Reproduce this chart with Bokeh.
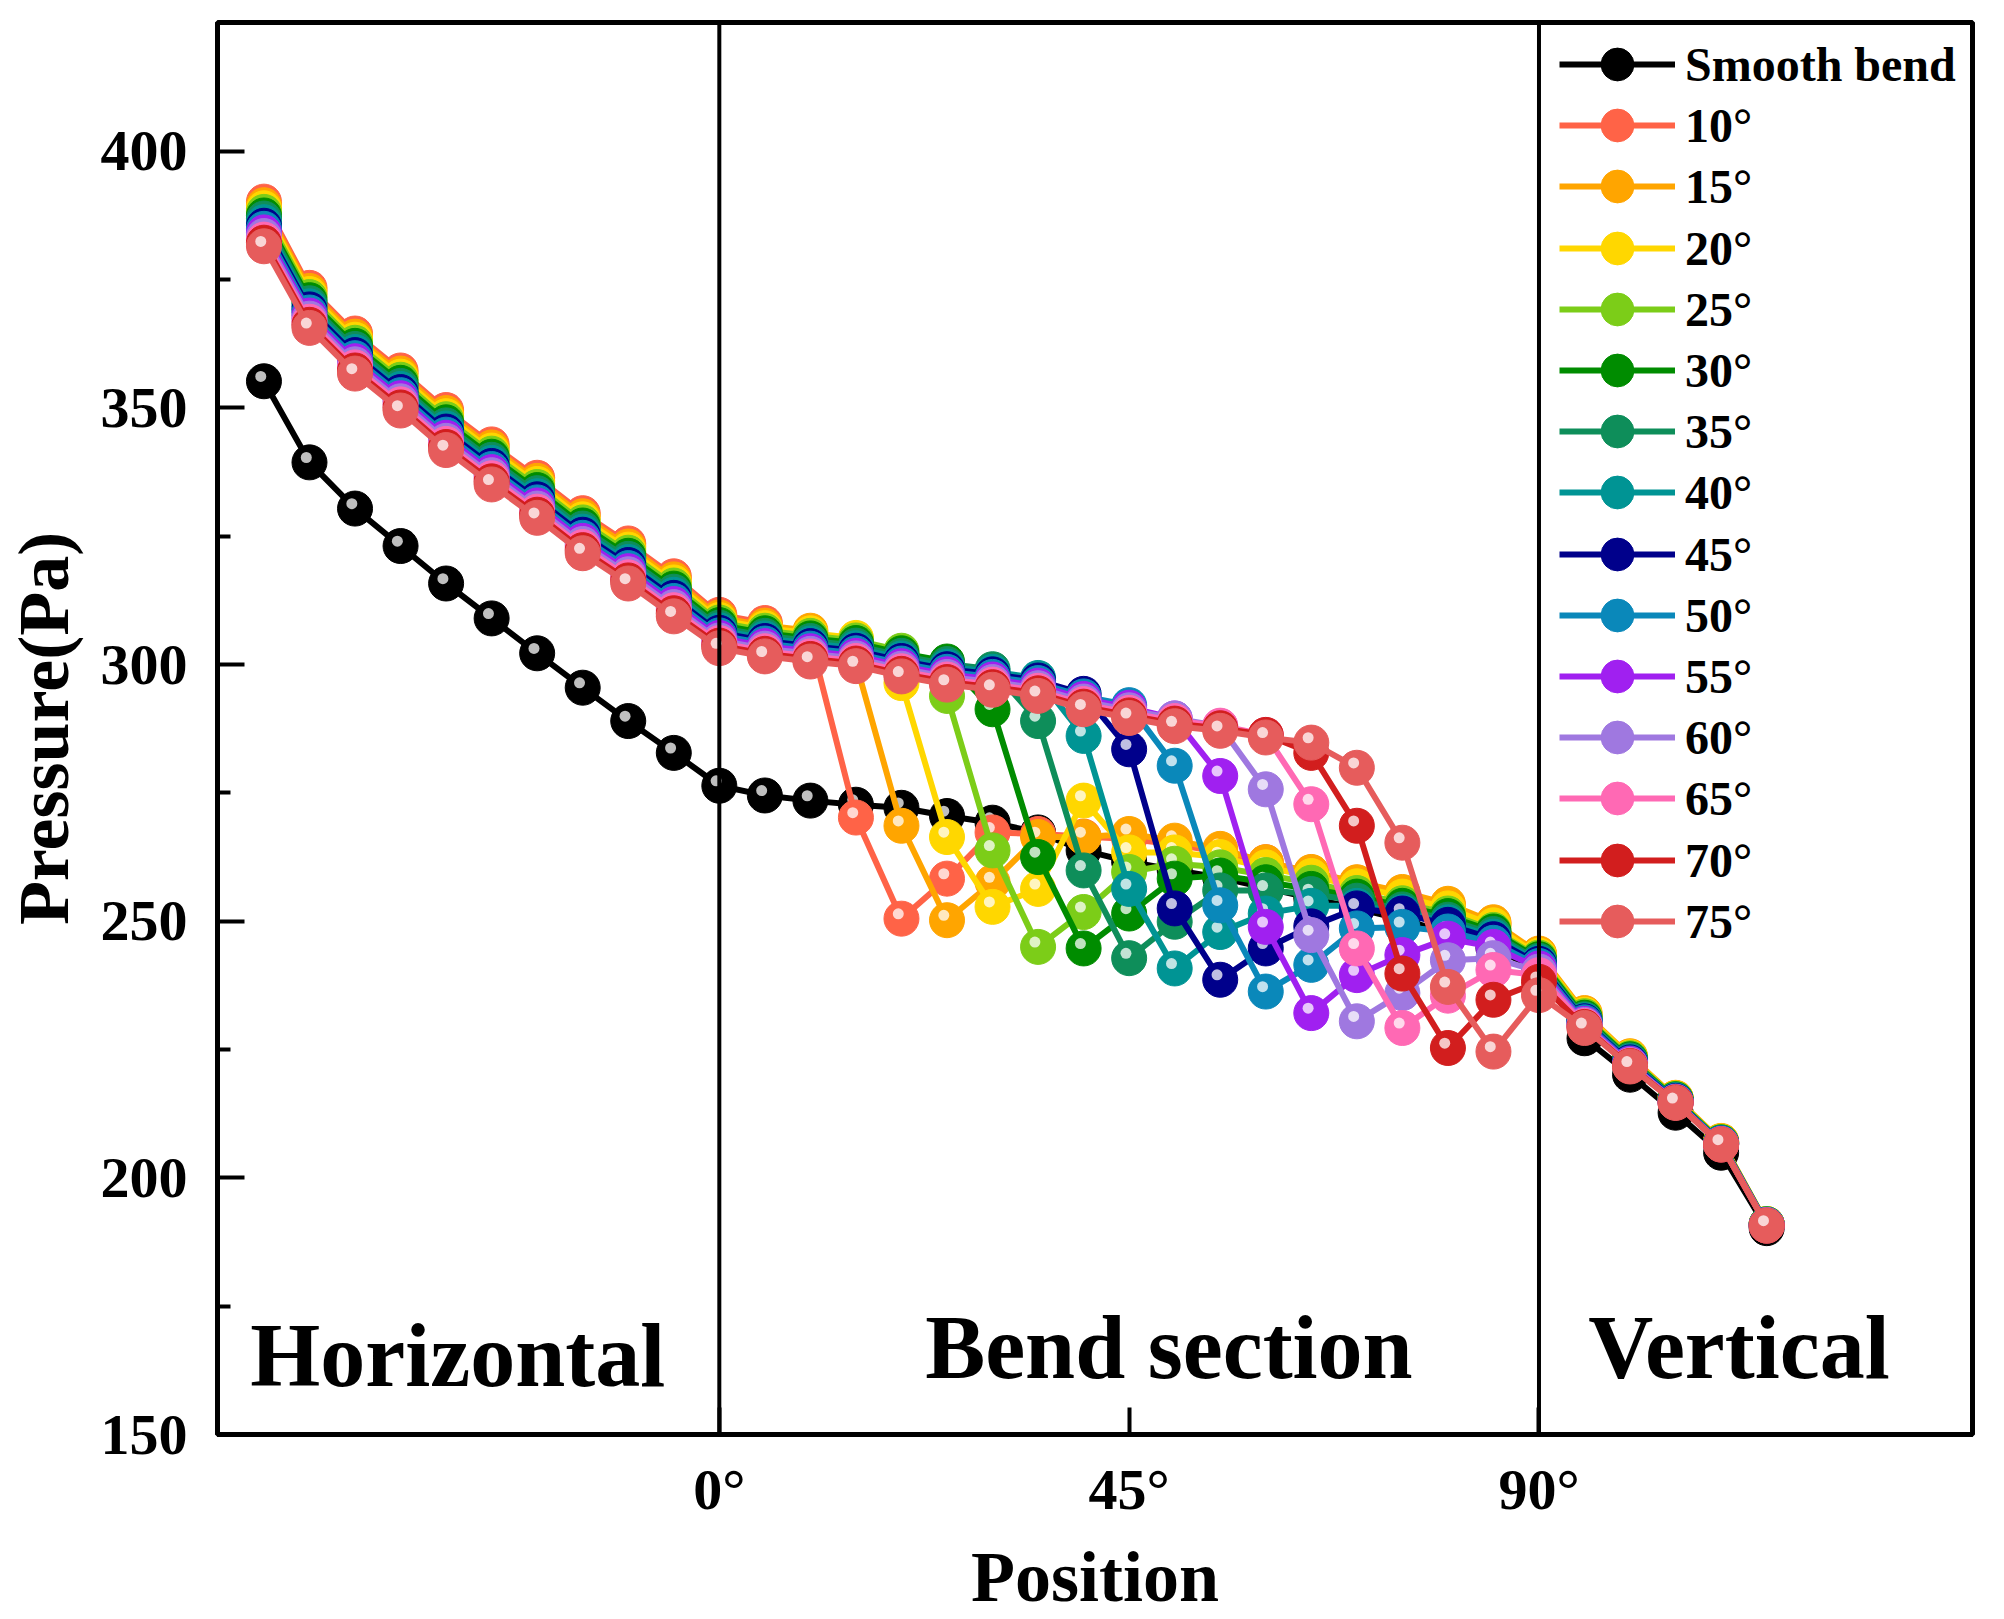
from bokeh.plotting import figure
from bokeh.models import Range1d, FixedTicker, Span, Label, Legend, LegendItem
from bokeh.embed import file_html
from bokeh.resources import INLINE

# positions along the pipe, in degrees of bend (negative = horizontal run, >90 = vertical run)
position = [-50, -45, -40, -35, -30, -25, -20, -15, -10, -5, 0,
            5, 10, 15, 20, 25, 30, 35, 40, 45, 50, 55, 60, 65, 70, 75, 80, 85, 90,
            95, 100, 105, 110, 115]

smooth_bend = [355.2, 339.4, 330.4, 323.1, 315.8, 309.0, 302.2, 295.5, 289.0, 282.8, 276.4,
               274.5, 273.5, 272.7, 272.1, 270.5, 269.2, 267.3, 263.8, 261.6, 260.0, 258.5, 256.5, 254.5, 252.5, 250.3, 247.8, 244.8, 240.5,
               227.2, 220.1, 212.7, 204.9, 190.2]
deg10 = [390.2, 373.4, 364.5, 357.3, 349.6, 342.9, 336.4, 329.5, 323.6, 317.2, 309.7,
         308.1, 305.0, 270.2, 250.5, 258.3, 267.3, 267.0, 266.5, 266.0, 265.0, 263.5, 261.5, 259.5, 257.5, 255.5, 253.0, 249.5, 243.5,
         231.9, 223.5, 215.5, 207.1, 191.0]
deg15 = [389.5, 372.8, 363.9, 356.7, 349.0, 342.3, 335.8, 328.9, 323.0, 316.6, 309.2,
         307.6, 306.6, 300.3, 268.6, 250.2, 257.6, 266.4, 266.4, 267.0, 265.7, 264.1, 261.5, 259.6, 257.6, 255.7, 253.4, 249.8, 243.7,
         232.1, 223.7, 215.6, 207.2, 191.0]
deg20 = [388.9, 372.2, 363.3, 356.1, 348.4, 341.7, 335.2, 328.3, 322.4, 316.0, 308.7,
         307.1, 306.1, 305.2, 296.4, 266.4, 252.8, 256.3, 273.5, 263.4, 263.4, 262.5, 260.5, 258.8, 256.8, 254.8, 252.5, 249.2, 243.3,
         231.8, 223.5, 215.5, 207.1, 191.0]
deg25 = [388.2, 371.6, 362.7, 355.5, 347.8, 341.1, 334.6, 327.7, 321.8, 315.4, 308.2,
         306.6, 305.6, 304.7, 302.7, 293.9, 263.8, 245.0, 251.8, 259.6, 261.2, 260.5, 259.0, 257.5, 255.5, 253.5, 251.5, 248.3, 242.9,
         231.5, 223.3, 215.4, 207.0, 191.0]
deg30 = [387.5, 371.0, 362.1, 354.9, 347.2, 340.5, 334.0, 327.1, 321.2, 314.8, 307.7,
         306.1, 305.1, 304.2, 302.2, 300.6, 291.3, 262.5, 244.7, 251.5, 258.3, 258.9, 257.6, 256.3, 254.8, 253.0, 251.0, 248.0, 242.6,
         231.2, 223.1, 215.3, 206.9, 190.9]
deg35 = [386.9, 370.4, 361.5, 354.3, 346.6, 339.9, 333.4, 326.5, 320.6, 314.2, 307.2,
         305.6, 304.6, 303.7, 301.7, 300.1, 299.1, 289.0, 259.9, 242.8, 249.9, 256.0, 256.0, 255.3, 254.0, 252.3, 250.3, 247.5, 242.3,
         230.9, 222.9, 215.2, 206.8, 190.9]
deg40 = [386.2, 369.8, 360.9, 353.7, 346.0, 339.3, 332.8, 325.9, 320.0, 313.6, 306.7,
         305.1, 304.1, 303.2, 301.2, 299.6, 298.6, 297.4, 286.1, 256.3, 240.8, 247.9, 251.5, 253.0, 253.0, 251.8, 249.8, 247.0, 242.0,
         230.7, 222.7, 215.1, 206.8, 190.9]
deg45 = [385.5, 369.2, 360.3, 353.1, 345.4, 338.7, 332.2, 325.3, 319.4, 313.0, 306.2,
         304.6, 303.6, 302.7, 300.7, 299.1, 298.1, 296.9, 294.3, 283.5, 252.5, 238.6, 244.7, 249.0, 252.5, 251.5, 249.3, 246.5, 241.7,
         230.5, 222.5, 215.0, 206.7, 190.8]
deg50 = [384.9, 368.6, 359.7, 352.5, 344.8, 338.1, 331.6, 324.7, 318.8, 312.4, 305.7,
         304.1, 303.1, 302.2, 300.2, 298.6, 297.6, 296.4, 293.8, 292.1, 280.3, 253.1, 236.3, 241.5, 248.6, 248.9, 248.0, 245.8, 241.3,
         230.3, 222.3, 214.9, 206.7, 190.8]
deg55 = [384.2, 368.0, 359.1, 351.9, 344.2, 337.5, 331.0, 324.1, 318.2, 311.8, 305.2,
         303.6, 302.6, 301.7, 299.7, 298.1, 297.1, 295.9, 293.3, 291.6, 289.5, 278.3, 248.9, 232.1, 239.5, 243.4, 246.6, 245.0, 240.8,
         230.0, 222.2, 214.8, 206.6, 190.8]
deg60 = [383.5, 367.4, 358.5, 351.3, 343.6, 336.9, 330.4, 323.5, 317.6, 311.2, 304.7,
         303.1, 302.1, 301.2, 299.2, 297.6, 296.6, 295.4, 292.8, 291.1, 289.5, 288.0, 275.7, 247.3, 230.5, 236.0, 242.4, 242.8, 240.2,
         229.8, 222.0, 214.8, 206.6, 190.8]
deg65 = [382.8, 366.8, 357.9, 350.7, 343.0, 336.3, 329.8, 322.9, 317.0, 310.6, 304.2,
         302.6, 301.6, 300.7, 298.7, 297.1, 296.1, 294.9, 292.3, 290.6, 289.0, 288.1, 286.3, 272.8, 244.7, 229.2, 235.5, 240.5, 239.5,
         229.6, 221.9, 214.7, 206.5, 190.7]
deg70 = [382.2, 366.2, 357.3, 350.1, 342.4, 335.7, 329.2, 322.3, 316.4, 310.0, 303.7,
         302.1, 301.1, 300.2, 298.2, 296.6, 295.6, 294.4, 291.8, 290.1, 288.5, 287.6, 286.3, 282.8, 268.6, 239.8, 225.3, 234.7, 238.2,
         229.4, 221.8, 214.7, 206.5, 190.7]
deg75 = [381.5, 365.6, 356.7, 349.5, 341.8, 335.1, 328.6, 321.7, 315.8, 309.4, 303.2,
         301.6, 300.6, 299.7, 297.7, 296.1, 295.1, 293.9, 291.3, 289.6, 288.0, 287.1, 285.8, 284.8, 279.9, 265.3, 237.2, 224.6, 235.6,
         229.2, 221.7, 214.6, 206.5, 190.7]

series_names = ["Smooth bend", "10°", "15°", "20°", "25°", "30°", "35°", "40°",
                "45°", "50°", "55°", "60°", "65°", "70°", "75°"]
series_values = [smooth_bend, deg10, deg15, deg20, deg25, deg30, deg35, deg40,
                 deg45, deg50, deg55, deg60, deg65, deg70, deg75]
series_colors = ["#000000", "#FF6347", "#FFA500", "#FFD700", "#7CCD18", "#008C00", "#0E8E5A", "#009494",
                 "#00008B", "#0A88BA", "#A020F0", "#9F78E0", "#FF69B4", "#D21E1E", "#E65C5C"]

y_ticks = [150, 200, 250, 300, 350, 400]
y_minor = [175, 225, 275, 325, 375]
x_ticks = [0, 45, 90]
x_tick_labels = {0: "0°", 45: "45°", 90: "90°"}
section_bounds = [0, 90]

FONT = "Liberation Serif"
FRAME_H = 1412

p = figure(frame_width=1755, frame_height=FRAME_H,
           x_range=Range1d(-55.1, 137.6), y_range=Range1d(150, 425.1),
           min_border_left=212, min_border_right=12, min_border_top=22, min_border_bottom=170,
           output_backend="svg", toolbar_location=None)
p.grid.grid_line_color = None
p.outline_line_color = "black"
p.outline_line_width = 5

p.yaxis.ticker = FixedTicker(ticks=y_ticks, minor_ticks=y_minor)
p.xaxis.ticker = FixedTicker(ticks=x_ticks)
p.xaxis.major_label_overrides = x_tick_labels
for ax in (p.xaxis, p.yaxis):
    ax.axis_line_width = 5
    ax.major_tick_in = 27
    ax.major_tick_out = 0
    ax.minor_tick_in = 13
    ax.minor_tick_out = 0
    ax.major_tick_line_width = 4
    ax.minor_tick_line_width = 4
    ax.major_label_text_font = FONT
    ax.major_label_text_font_style = "bold"
    ax.major_label_text_font_size = "58px"
    ax.major_label_text_color = "black"
    ax.axis_label_text_font = FONT
    ax.axis_label_text_font_style = "bold"
    ax.axis_label_text_font_size = "72px"
    ax.axis_label_text_color = "black"
p.xaxis.axis_label = "Position"
p.yaxis.axis_label = "Pressure(Pa)"
p.xaxis.major_label_standoff = 22
p.yaxis.major_label_standoff = 30
p.xaxis.axis_label_standoff = 12
p.yaxis.axis_label_standoff = 14

for b in section_bounds:
    p.add_layout(Span(location=b, dimension="height", line_color="black", line_width=4))

for txt, lx, ly in [("Horizontal", -51.5, 165.3), ("Bend section", 22.6, 166.9), ("Vertical", 95.4, 166.9)]:
    p.add_layout(Label(x=lx, y=ly, text=txt, text_font=FONT, text_font_style="bold",
                       text_font_size="90px", text_color="black",
                       text_align="left", text_baseline="alphabetic"))

# one single-row legend per series, stacked by hand, so the legend markers
# can be as big as the ones in the plot while keeping rows tight
ROW = 61.2
for i, (name, vals, col) in enumerate(zip(series_names, series_values, series_colors)):
    ln = p.line(position, vals, line_color=col, line_width=6)
    sc = p.scatter(position, vals, size=35, fill_color=col, line_color=col, line_width=1)
    hx = [v - 0.35 for v in position]
    hy = [v + 0.95 for v in vals]
    p.scatter(hx, hy, size=11, fill_color="white", fill_alpha=0.75, line_alpha=0)
    lg = Legend(items=[LegendItem(label=name, renderers=[ln, sc])],
                location=(1342, int(round(FRAME_H - 83 - ROW * i))),
                margin=0, padding=0, spacing=0,
                glyph_width=116, glyph_height=82, label_height=44, label_standoff=10,
                label_text_font=FONT, label_text_font_style="bold", label_text_font_size="48px",
                label_text_color="black", border_line_alpha=0, background_fill_alpha=0)
    p.add_layout(lg)

open("out.html", "w").write(file_html(p, INLINE))
